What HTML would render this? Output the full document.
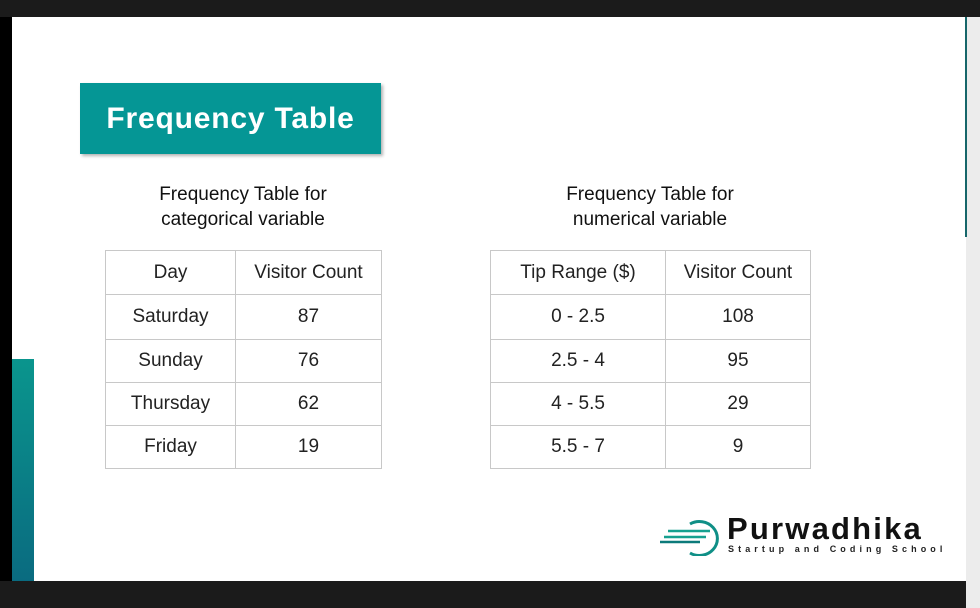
<!DOCTYPE html>
<html><head><meta charset="utf-8"><style>
body{margin:0;width:980px;height:608px;position:relative;overflow:hidden;background:#1b1b1b;font-family:"Liberation Sans",sans-serif}
.a{position:absolute}
.c{position:absolute;display:flex;align-items:center;justify-content:center;font-size:19px;color:#222;box-sizing:border-box}
.cap{position:absolute;text-align:center;font-size:19px;color:#111;line-height:25px}
</style></head><body>
<div class="a" style="left:0;top:17px;width:12px;height:564px;background:#000"></div>
<div class="a" style="left:12px;top:17px;width:954px;height:564px;background:#fff"></div>
<div class="a" style="left:966px;top:17px;width:14px;height:591px;background:#ececec"></div>
<div class="a" style="left:965px;top:17px;width:2px;height:220px;background:#16666a"></div>
<div class="a" style="left:12px;top:359px;width:22px;height:222px;background:linear-gradient(#0a958d,#0a6b80)"></div>
<div class="a" style="left:80px;top:83px;width:301px;height:71px;background:#059695;box-shadow:2px 2px 3px rgba(0,0,0,.3);color:#fff;font-weight:bold;font-size:30px;letter-spacing:0.8px;display:flex;align-items:center;justify-content:center">Frequency Table</div>
<div class="cap" style="left:105px;top:182px;width:276px">Frequency Table for<br>categorical variable</div>
<div class="cap" style="left:490px;top:182px;width:320px">Frequency Table for<br>numerical variable</div>
<div id="t1"></div>
<div id="t2"></div>
<div class="a" style="left:660px;top:512px;width:300px;height:48px">
<svg class="a" style="left:0;top:4px" width="64" height="40"><path d="M30 8 A18 17 0 1 1 30 37" fill="none" stroke="#0f8f86" stroke-width="3"/><line x1="8" y1="15" x2="50" y2="15" stroke="#16a08f" stroke-width="2.5"/><line x1="4" y1="21" x2="46" y2="21" stroke="#16a08f" stroke-width="2.5"/><line x1="0" y1="26" x2="40" y2="26" stroke="#0c7a7a" stroke-width="2.5"/></svg>
<div class="a" style="left:67px;top:-1px;font-size:31px;font-weight:bold;color:#111;letter-spacing:2.2px">Purwadhika</div>
<div class="a" style="left:68px;top:32px;font-size:9px;font-weight:bold;color:#222;letter-spacing:4.1px;white-space:nowrap">Startup and Coding School</div>
</div>
<script>
const rowsY=[250,294,339,382,425,468];
const catHeaders=["Day","Visitor Count"];
const catDays=["Saturday","Sunday","Thursday","Friday"];
const catCounts=[87,76,62,19];
const numHeaders=["Tip Range ($)","Visitor Count"];
const numRanges=["0 - 2.5","2.5 - 4","4 - 5.5","5.5 - 7"];
const numCounts=[108,95,29,9];
function build(id,x0,xm,x1,h,c1,c2,prefix){
  const host=document.getElementById(id);
  const rows=[h].concat(c1.map((v,i)=>[v,c2[i]]));
  rows.forEach((r,i)=>{
    [[x0,xm],[xm,x1]].forEach((b,j)=>{
      const d=document.createElement('div');
      d.className='c';
      
      
      d.style.left=b[0]+'px';d.style.top=rowsY[i]+'px';
      d.style.width=(b[1]-b[0]+1)+'px';d.style.height=(rowsY[i+1]-rowsY[i]+1)+'px';
      d.style.border='1px solid #c8c8c8';
      d.textContent=r[j];
      host.appendChild(d);
    });
  });
}
build('t1',105,235,381,catHeaders,catDays,catCounts,'categorical');
build('t2',490,665,810,numHeaders,numRanges,numCounts,'numerical');
</script>
</body></html>
